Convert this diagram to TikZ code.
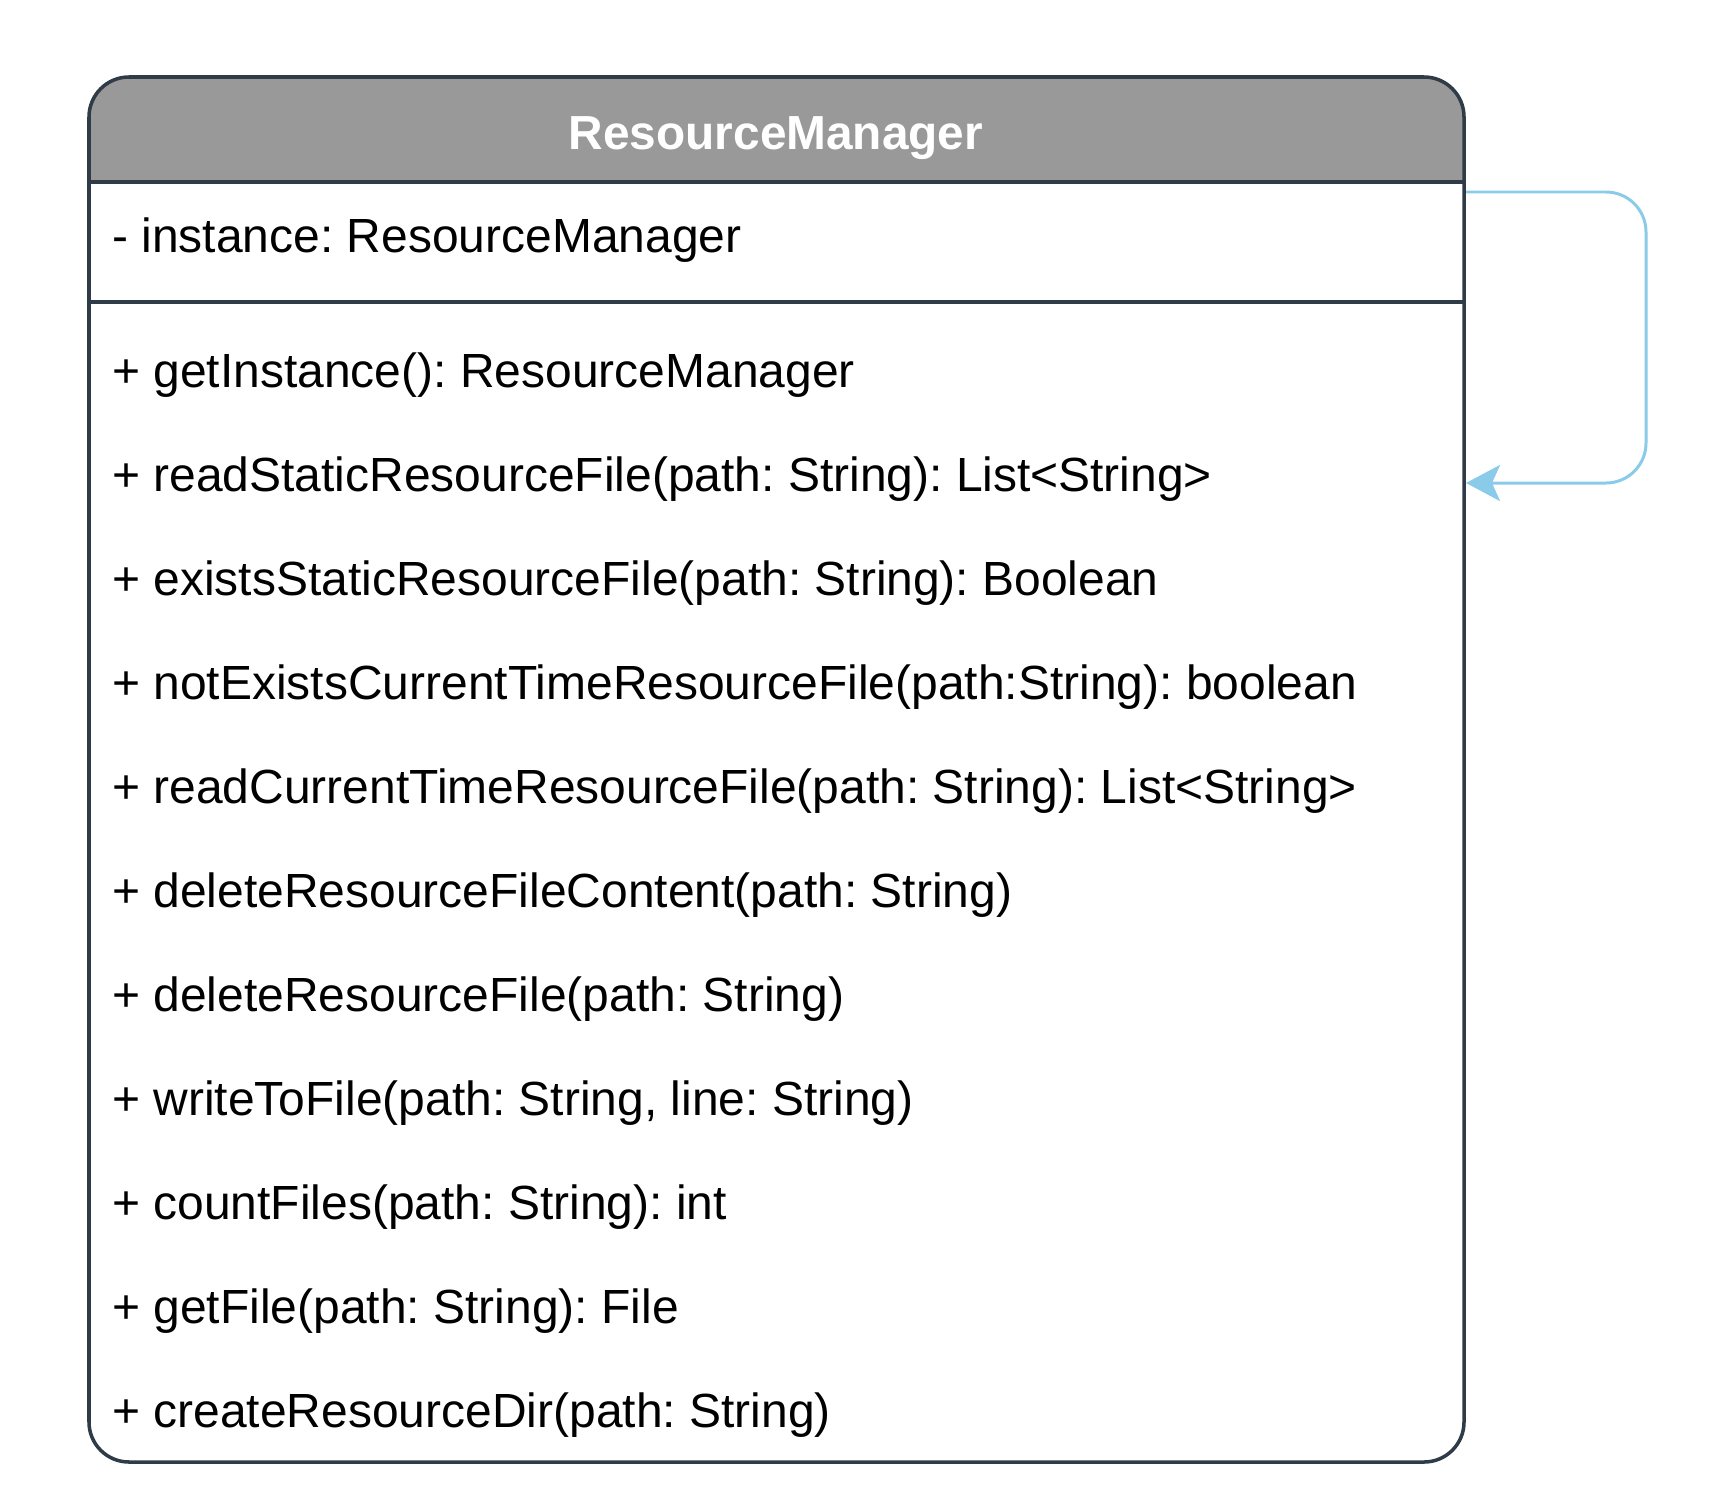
\documentclass[tikz,border=0pt]{standalone}
\usepackage{fontspec}
\setmainfont{Liberation Sans}
\usepackage{tikz}
\usetikzlibrary{arrows.meta}
\frenchspacing

\definecolor{classline}{HTML}{2F3C48}
\definecolor{headgray}{HTML}{999999}
\definecolor{selfblue}{HTML}{89CBE8}

\tikzset{
  member/.style={anchor=base west, inner sep=0pt, font=\fontsize{27.3}{32}\selectfont},
  classname/.style={anchor=base, inner sep=0pt, text=white, font=\fontsize{27.2}{32}\selectfont\bfseries},
  selfcall/.style={selfblue, line width=1.7pt, rounded corners=0.8cm,
                   -{Stealth[length=0.68cm, width=0.72cm, inset=0.16cm]}}
}

\begin{document}
\begin{tikzpicture}[x=0.02cm, y=-0.02cm]
        \useasboundingbox (0,0) rectangle (1710,1511);
        \fill [white, rounded corners=0.8cm] (89,77) rectangle (1464,1462);      %class body
        \begin{scope}
          \clip (80,70) rectangle (1470,182);
          \fill [headgray, rounded corners=0.8cm] (89,77) rectangle (1464,1462); %header
        \end{scope}
        \draw [classline, line width=2pt] (89,182) -- (1464,182);                 %
        \draw [classline, line width=2pt] (89,302) -- (1464,302);                 %
        \draw [classline, line width=2pt, rounded corners=0.8cm] (89,77) rectangle (1464,1462);

        \node [classname] (title) at (776,149) {ResourceManager};                 %
        \node [member] (attr)  at (112,252)  {- instance: ResourceManager};       %

        \node [member] (op1)  at (112,387)  {+ getInstance(): ResourceManager};
        \node [member] (op2)  at (112,491)  {+ readStaticResourceFile(path: String): List<String>};
        \node [member] (op3)  at (112,595)  {+ existsStaticResourceFile(path: String): Boolean};
        \node [member] (op4)  at (112,699)  {+ notExistsCurrentTimeResourceFile(path:String): boolean};
        \node [member] (op5)  at (112,803)  {+ readCurrentTimeResourceFile(path: String): List<String>};
        \node [member] (op6)  at (112,907)  {+ deleteResourceFileContent(path: String)};
        \node [member] (op7)  at (112,1011) {+ deleteResourceFile(path: String)};
        \node [member] (op8)  at (112,1115) {+ writeToFile(path: String, line: String)};
        \node [member] (op9)  at (112,1219) {+ countFiles(path: String): int};
        \node [member] (op10) at (112,1323) {+ getFile(path: String): File};
        \node [member] (op11) at (112,1427) {+ createResourceDir(path: String)};

        \coordinate (selfout) at (1466,192);                                      %
        \coordinate (selfin)  at (1466,483);                                      %
        \draw [selfcall] (selfout) -- (1646,192) -- (1646,483) -- (selfin);       %self reference
\end{tikzpicture}
\end{document}
